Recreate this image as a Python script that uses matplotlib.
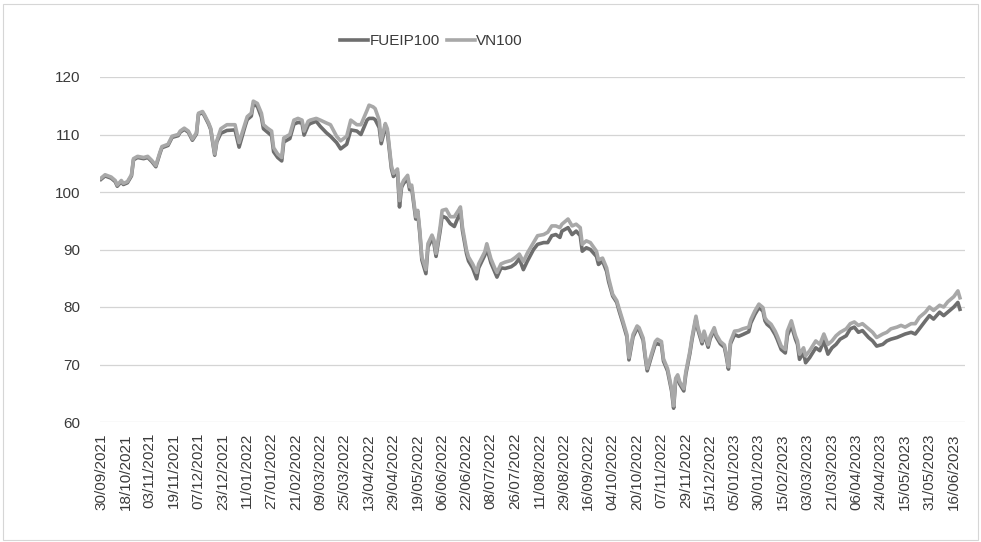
import matplotlib
matplotlib.use("Agg")
import matplotlib.pyplot as plt
from matplotlib.patches import Rectangle

plt.rcParams['font.family'] = ['Liberation Sans', 'DejaVu Sans']

# ---- data (trading-day index from 30/09/2021) ----
days = [0, 2, 5, 7, 8, 10, 11, 13, 15, 16, 18, 21, 23, 25, 27, 29, 30, 33, 35, 38,
        39, 41, 43, 45, 47, 48, 50, 51, 53, 54, 56, 57, 59, 62, 66, 68, 71, 72, 74, 75,
        77, 79, 80, 82, 84, 85, 87, 89, 90, 93, 95, 97, 99, 100, 102, 103, 106, 108, 111, 113,
        116, 118, 121, 123, 126, 128, 131, 132, 134, 135, 137, 138, 140, 141, 142, 143, 144, 146, 147, 148,
        149, 151, 152, 153, 155, 156, 157, 158, 160, 161, 163, 164, 165, 167, 168, 170, 172, 174, 176, 177,
        178, 180, 181, 183, 185, 186, 189, 190, 192, 194, 195, 197, 199, 202, 204, 206, 208, 210, 213, 215,
        218, 220, 222, 224, 226, 227, 230, 232, 234, 236, 237, 239, 241, 244, 245, 247, 249, 250, 252, 254,
        255, 257, 259, 260, 262, 264, 265, 267, 268, 269, 271, 273, 274, 276, 277, 279, 281, 282, 283, 284,
        285, 287, 288, 290, 291, 293, 294, 296, 297, 299, 300, 302, 303, 305, 307, 308, 309, 310, 312, 314,
        316, 319, 320, 322, 324, 326, 327, 328, 330, 332, 333, 335, 337, 338, 340, 342, 343, 344, 346, 347,
        349, 352, 354, 356, 358, 360, 362, 364, 367, 369, 371, 373, 375, 378, 380, 382, 385, 387, 389, 392,
        394, 396, 399, 401, 403, 406, 408, 410, 413, 415, 417, 420, 422, 423]

vn100 = [102.4, 103.0, 102.6, 102.0, 101.2, 102.0, 101.5, 101.8, 103.0, 105.8,
         106.2, 106.0, 106.2, 105.5, 104.6, 106.9, 107.9, 108.3, 109.7, 110.0,
         110.6, 111.1, 110.6, 109.2, 110.3, 113.7, 114.0, 113.4, 112.0, 111.1,
         106.6, 108.9, 111.0, 111.7, 111.7, 108.6, 112.0, 113.1, 113.7, 115.8,
         115.4, 113.7, 111.7, 111.1, 110.6, 107.7, 106.6, 106.0, 109.4, 110.0,
         112.5, 112.8, 112.5, 110.6, 112.3, 112.5, 112.8, 112.5, 112.0, 111.7,
         109.7, 108.9, 109.7, 112.5, 111.7, 111.7, 114.2, 115.1, 114.8, 114.5,
         112.5, 109.0, 111.9, 111.0, 107.8, 104.6, 103.2, 104.0, 98.5, 101.2,
         102.0, 102.9, 100.9, 101.2, 95.7, 96.8, 93.3, 88.7, 86.5, 91.0,
         92.5, 91.6, 89.3, 93.9, 96.8, 97.0, 95.7, 95.7, 96.8, 97.4,
         93.9, 89.9, 88.7, 87.5, 86.0, 87.5, 89.6, 91.0, 88.4, 86.7,
         86.0, 87.5, 87.8, 88.1, 88.6, 89.2, 87.9, 89.4, 91.2, 92.4,
         92.6, 93.0, 94.1, 94.1, 93.8, 94.4, 95.3, 94.1, 94.4, 93.8,
         90.9, 91.5, 91.2, 89.7, 88.2, 88.5, 86.8, 85.0, 82.2, 81.1,
         79.9, 77.6, 75.2, 71.2, 75.2, 76.7, 76.4, 74.6, 71.7, 69.3,
         71.7, 74.0, 74.4, 74.0, 71.0, 69.3, 65.8, 62.8, 67.6, 68.2,
         67.0, 65.8, 68.7, 72.3, 74.6, 78.4, 76.4, 74.0, 75.8, 73.4,
         74.9, 76.4, 75.2, 74.0, 73.4, 71.7, 69.6, 74.0, 75.8, 75.9,
         76.2, 76.5, 77.8, 79.3, 80.5, 79.9, 78.1, 77.6, 77.0, 75.8,
         75.0, 73.2, 72.6, 75.8, 77.6, 75.0, 74.1, 71.8, 72.9, 71.5,
         72.4, 74.1, 73.5, 75.3, 73.5, 74.1, 75.0, 75.6, 76.2, 77.1,
         77.4, 76.8, 77.1, 76.2, 75.6, 74.7, 75.3, 75.6, 76.2, 76.5,
         76.8, 76.5, 77.1, 77.1, 78.2, 79.1, 80.0, 79.4, 80.3, 80.0,
         80.9, 81.8, 82.8, 81.6]

fueip100 = [102.2, 102.8, 102.4, 101.8, 101.0, 101.8, 101.3, 101.6, 102.8, 105.6,
            106.0, 105.8, 106.0, 105.3, 104.4, 106.7, 107.7, 108.1, 109.5, 109.8,
            110.4, 110.9, 110.4, 109.0, 110.1, 113.5, 113.8, 113.2, 111.8, 110.9,
            106.4, 108.7, 110.2, 110.7, 110.8, 107.8, 111.5, 112.6, 113.2, 115.3,
            114.9, 113.0, 111.0, 110.4, 109.8, 107.0, 106.0, 105.4, 108.7, 109.3,
            111.8, 112.1, 112.0, 109.9, 111.6, 111.9, 112.3, 111.4, 110.3, 109.7,
            108.6, 107.5, 108.3, 110.8, 110.6, 110.0, 112.5, 112.8, 112.8, 112.6,
            111.2, 108.4, 111.2, 110.5, 107.3, 104.1, 102.7, 103.5, 97.4, 100.8,
            101.5, 102.3, 100.4, 100.7, 95.3, 96.3, 92.8, 88.2, 85.8, 90.4,
            91.9, 91.0, 88.8, 93.2, 95.8, 95.5, 94.5, 94.0, 95.7, 96.8,
            93.3, 89.3, 88.0, 86.8, 84.9, 86.8, 89.0, 90.3, 87.7, 86.0,
            85.2, 86.8, 86.7, 87.0, 87.5, 88.4, 86.5, 88.0, 90.0, 90.9,
            91.2, 91.2, 92.4, 92.6, 92.1, 93.2, 93.8, 92.6, 93.2, 92.4,
            89.7, 90.3, 90.0, 88.8, 87.4, 88.0, 86.2, 84.4, 81.9, 80.8,
            79.5, 77.2, 74.8, 70.8, 74.8, 76.3, 76.0, 74.2, 71.3, 68.9,
            71.3, 73.6, 73.6, 73.4, 70.6, 68.9, 65.4, 62.4, 67.2, 67.8,
            66.6, 65.4, 68.3, 71.9, 74.2, 78.0, 76.0, 73.6, 75.4, 73.0,
            74.5, 76.0, 74.8, 73.6, 73.0, 71.3, 69.2, 73.6, 75.2, 74.9,
            75.2, 75.7, 77.2, 78.7, 79.9, 79.3, 77.6, 77.0, 76.4, 75.2,
            74.4, 72.6, 72.0, 75.0, 76.8, 74.4, 73.5, 70.9, 72.1, 70.3,
            71.2, 72.9, 72.4, 74.1, 71.8, 72.9, 73.5, 74.4, 75.0, 76.2,
            76.5, 75.6, 75.9, 74.7, 74.1, 73.2, 73.5, 74.1, 74.4, 74.7,
            75.0, 75.3, 75.6, 75.3, 76.2, 77.6, 78.5, 77.9, 79.1, 78.5,
            79.1, 80.0, 80.8, 79.6]

tick_labels = ["30/09/2021", "18/10/2021", "03/11/2021", "19/11/2021", "07/12/2021",
               "23/12/2021", "11/01/2022", "27/01/2022", "21/02/2022", "09/03/2022",
               "25/03/2022", "13/04/2022", "29/04/2022", "19/05/2022", "06/06/2022",
               "22/06/2022", "08/07/2022", "26/07/2022", "11/08/2022", "29/08/2022",
               "16/09/2022", "04/10/2022", "20/10/2022", "07/11/2022", "29/11/2022",
               "15/12/2022", "05/01/2023", "30/01/2023", "15/02/2023", "03/03/2023",
               "21/03/2023", "06/04/2023", "24/04/2023", "15/05/2023", "31/05/2023",
               "16/06/2023"]
label_every = 12
n_categories = 426

# ---- figure ----
fig = plt.figure(figsize=(9.81, 5.42), dpi=100)
ax = fig.add_axes([100 / 981, 1 - 422 / 542, 865 / 981, 345 / 542])

ax.plot(days, fueip100, color="#6e6e6e", lw=2.6, label="FUEIP100",
        solid_joinstyle="round", zorder=3)
ax.plot(days, vn100, color="#a8a8a8", lw=2.6, label="VN100",
        solid_joinstyle="round", zorder=4)

ax.set_xlim(-0.5, n_categories - 0.5)
ax.set_ylim(60, 120)
ax.set_yticks(range(60, 121, 10))
ax.set_xticks([i * label_every for i in range(len(tick_labels))])
ax.set_xticklabels(tick_labels, rotation=90)

ax.grid(axis="y", color="#d4d4d4", lw=0.9)
ax.set_axisbelow(True)
for s in ax.spines.values():
    s.set_visible(False)
ax.tick_params(axis="both", length=0, colors="#3a3a3a", labelsize=11)
ax.tick_params(axis="y", pad=14)
ax.tick_params(axis="x", pad=8)

fig.legend(loc="upper center", bbox_to_anchor=(0.44, 0.962), ncol=2, frameon=False,
           fontsize=11, handlelength=1.8, handletextpad=0.1, columnspacing=0.5,
           labelcolor="#3a3a3a")

fig.add_artist(Rectangle((0.003, 0.004), 0.994, 0.988, transform=fig.transFigure,
                         fill=False, edgecolor="#d6d6d6", lw=0.8))

fig.savefig("out.png", dpi=100, facecolor="white")
